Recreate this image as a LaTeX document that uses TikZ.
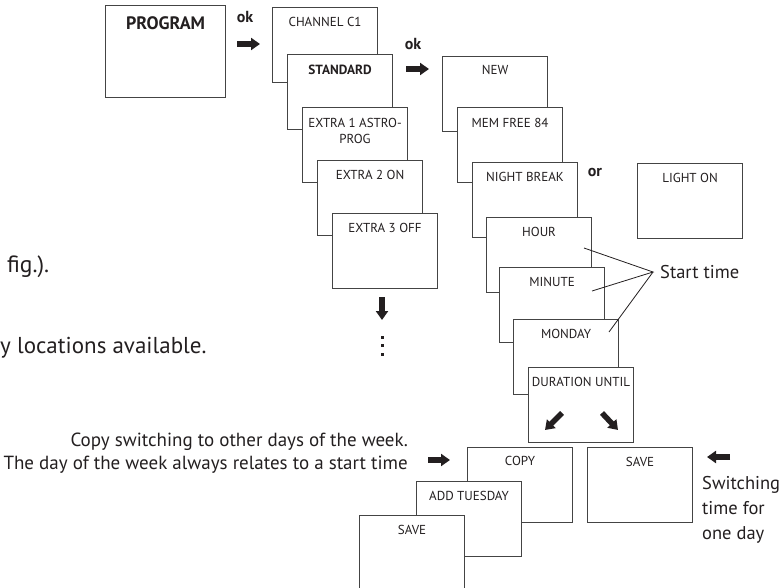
\documentclass[tikz,border=0pt]{standalone}
\usepackage{fontspec}
\setmainfont{PT Sans}
\usetikzlibrary{arrows.meta,calc}
\definecolor{edge}{HTML}{444444}
\definecolor{ink}{HTML}{231F20}
\begin{document}
\begin{tikzpicture}[x=1pt,y=-1pt,
  box/.style={draw=edge,fill=white,line width=1.1pt,minimum width=105pt,minimum height=75pt,anchor=north west,inner sep=0pt},
  lab/.style={text=ink,font=\fontsize{13}{16}\selectfont,inner sep=0pt,align=center},
  blab/.style={text=ink,font=\fontsize{13.3}{16}\selectfont\bfseries,inner sep=0pt},
  big/.style={text=ink,font=\fontsize{18.5}{25}\selectfont,inner sep=0pt},
  bold/.style={text=ink,font=\fontsize{16}{18}\selectfont\bfseries,inner sep=0pt},
  blk/.style={line width=6pt,draw=ink,-{Triangle[length=9pt,width=12pt]}},
  conn/.style={draw=ink,line width=0.8pt}
]
\useasboundingbox (0,0) rectangle (782,588);

% left column
\node[box,minimum width=120pt,minimum height=92pt] (prog) at (105,5) {};
\node[blab,font=\fontsize{18}{20}\selectfont\bfseries] at ($(prog.north)+(0,18)$) {PROGRAM};
\node[bold] (ok1) at (245,17) {ok};
\coordinate (a1s) at (237,44); \coordinate (a1e) at (260,44);
\draw[blk] (a1s) -- (a1e);

% channel column
\node[box] (ch) at (272,7) {};
\node[lab] at ($(ch.north)+(0,15)$) {CHANNEL C1};
\node[box] (std) at (287,54) {};
\node[blab] at ($(std.north)+(0,16)$) {STANDARD};
\node[box] (ex1) at (302,107) {};
\node[lab] at ($(ex1.north)+(0,24)$) {EXTRA 1 ASTRO-\\PROG};
\node[box] (ex2) at (317,160) {};
\node[lab] at ($(ex2.north)+(0,15)$) {EXTRA 2 ON};
\node[box] (ex3) at (332,213) {};
\node[lab] at ($(ex3.north)+(0,15)$) {EXTRA 3 OFF};
\coordinate (dns) at (382,297); \coordinate (dne) at (382,320);
\draw[blk] (dns) -- (dne);
\foreach \yy in {336,344,353} \fill[ink] (380.5,\yy) rectangle ++(3,3);

% second ok
\node[bold] (ok2) at (413,44) {ok};
\coordinate (a2s) at (406,69); \coordinate (a2e) at (429,69);
\draw[blk] (a2s) -- (a2e);

% program column
\node[box] (new) at (442,56) {};
\node[lab] at ($(new.north)+(0,14)$) {NEW};
\node[box] (mem) at (457,107) {};
\node[lab] at ($(mem.north)+(0,16)$) {MEM FREE 84};
\node[box] (nb) at (472,162) {};
\node[lab] at ($(nb.north)+(0,15)$) {NIGHT BREAK};
\node[bold] (or) at (595,173) {or};
\node[box] (lo) at (637,163) {};
\node[lab] at ($(lo.north)+(0,15)$) {LIGHT ON};
\node[box] (hr) at (486,217) {};
\node[lab] at ($(hr.north)+(0,15)$) {HOUR};
\node[box] (mi) at (499,267) {};
\node[lab] at ($(mi.north)+(0,15)$) {MINUTE};
\node[box] (mo) at (513,319) {};
\node[lab] at ($(mo.north)+(0,15)$) {MONDAY};
\node[box] (du) at (528,367) {};
\node[lab] at ($(du.north)+(0,15)$) {DURATION UNTIL};
\coordinate (d1s) at (562,413); \coordinate (d1e) at (545,430);
\draw[blk,line width=5.5pt] (d1s) -- (d1e);
\coordinate (d2s) at (602,413); \coordinate (d2e) at (618,430);
\draw[blk,line width=5.5pt] (d2s) -- (d2e);

% start time
\node[big,anchor=west] (st) at (660,272) {Start time};
\coordinate (cv) at (653,272);
\coordinate (p1) at (584,248);
\coordinate (p2) at (592,291);
\coordinate (p3) at (609,332);
\draw[conn] (p1) -- (cv) -- (p2);
\draw[conn] (p3) -- (cv);

% bottom
\node[box] (cp) at (467,447) {};
\node[lab] at ($(cp.north)+(0,14)$) {COPY};
\node[box] (at) at (416,481) {};
\node[lab] at ($(at.north)+(0,15)$) {ADD TUESDAY};
\node[box] (sv1) at (359,515) {};
\node[lab] at ($(sv1.north)+(0,15)$) {SAVE};
\node[box] (sv2) at (587,447) {};
\node[lab] at ($(sv2.north)+(0,15)$) {SAVE};

\node[big,anchor=east,align=right,font=\fontsize{19}{23}\selectfont] (cpt) at (408,453.5)
  {Copy switching to other days of the week.\\The day of the week always relates to a start time};
\coordinate (a3s) at (428,460); \coordinate (a3e) at (450,460);
\draw[blk] (a3s) -- (a3e);
\coordinate (a4s) at (730,457); \coordinate (a4e) at (707,457);
\draw[blk] (a4s) -- (a4e);
\node[big,anchor=west,align=left] (sw) at (702,510) {Switching\\time for\\one day};

% cut-off body text
\node[big,anchor=west,font=\fontsize{23.5}{26}\selectfont] (t1) at (7,267) {fig.).};
\node[big,anchor=west,font=\fontsize{23}{26}\selectfont] (t2) at (0,348) {y locations available.};
\end{tikzpicture}
\end{document}
